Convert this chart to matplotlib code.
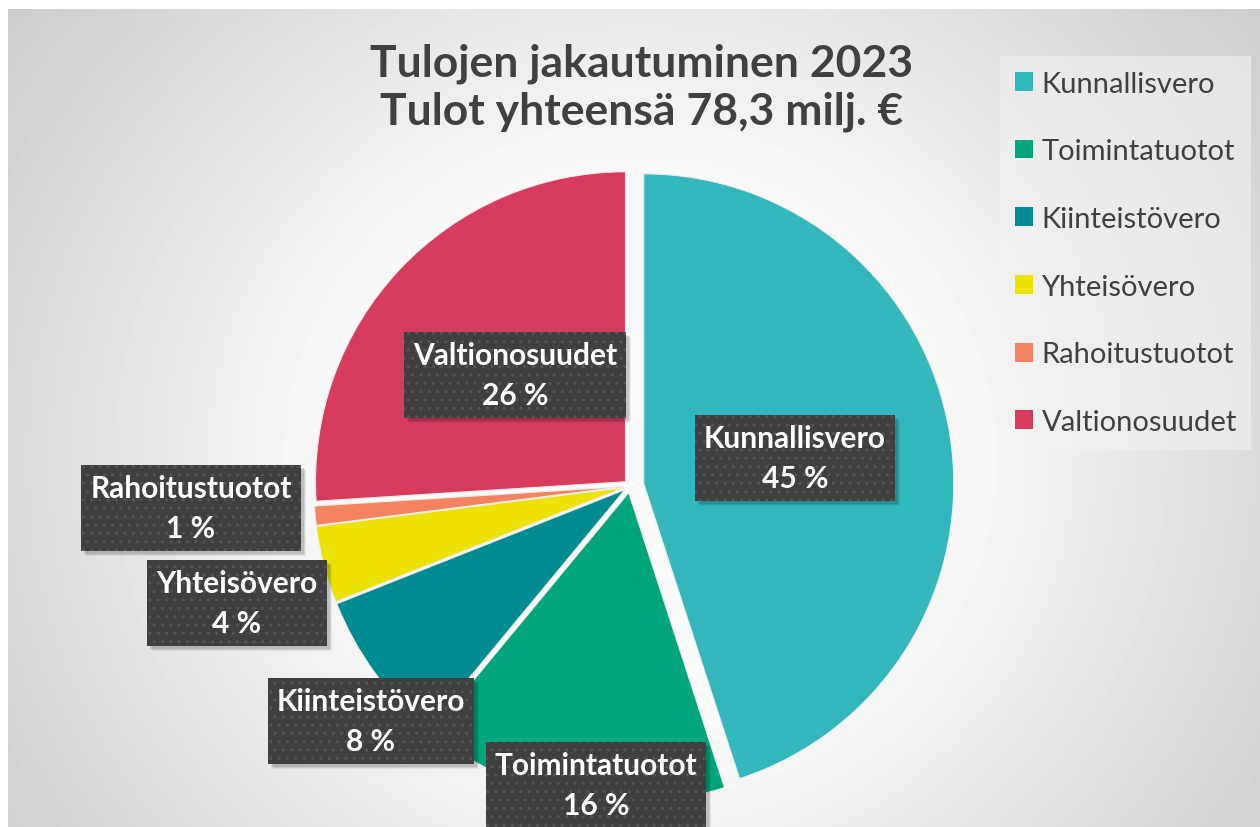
import numpy as np
import matplotlib
matplotlib.use("Agg")
import matplotlib.pyplot as plt
from matplotlib.patches import Rectangle

# ---- data ----
categories = ["Kunnallisvero", "Toimintatuotot", "Kiinteistövero",
              "Yhteisövero", "Rahoitustuotot", "Valtionosuudet"]
shares = [45, 16, 8, 4, 1, 26]
colors = ["#32B7BD", "#00A57B", "#008B92", "#EDE100", "#F4845F", "#D83C5C"]
title_lines = ["Tulojen jakautuminen 2023", "Tulot yhteensä 78,3 milj. €"]

# ---- layout (pixels) ----
W, H = 1260, 828
CX, CY, R = 630, 487, 310          # pie centre / radius in px (from top)
explode = [0.045, 0.022, 0.02, 0.02, 0.02, 0.02]
# label box centres, px from top-left
label_px = [(795, 459), (596, 786), (371, 722), (237, 604), (191, 509), (515, 376)]

FONT = "Lato"
TXT = "#404040"

fig = plt.figure(figsize=(W / 100, H / 100), dpi=100)
fig.patch.set_facecolor("white")

# background radial gradient
bg = fig.add_axes([8 / W, 0, 1 - 8 / W, (H - 10) / H])
yy, xx = np.mgrid[10:H, 8:W].astype(float)
r = np.hypot(xx - 640, (yy - 460) * 1.05)
t = np.clip((r - 280) / 560, 0, 1)
val = 0.985 - t * (0.985 - 0.78)
bg.imshow(val, cmap="gray", vmin=0, vmax=1, aspect="auto", interpolation="bilinear")
bg.axis("off")

# pie axes, 1 data unit == R px in both directions
ax = fig.add_axes([0, 0, 1, 1])
ax.patch.set_alpha(0)
wedges, _ = ax.pie(shares, colors=colors, startangle=90, counterclock=False,
                   explode=explode, radius=1,
                   wedgeprops=dict(edgecolor="#ececec", linewidth=0.8))
ax.set_aspect("auto")
ax.set_xlim(-CX / R, (W - CX) / R)
ax.set_ylim(-(H - CY) / R, CY / R)
ax.axis("off")

# data labels
LFS = 21.5
labels = []
for name, val_, (px, py) in zip(categories, shares, label_px):
    x = (px - CX) / R
    y = (CY - py) / R
    s = f"{name}\n{val_} %"
    txt = ax.text(x, y, s, ha="center", va="center",
                  fontsize=LFS, fontweight="bold", family=FONT, color="white",
                  linespacing=1.5, zorder=5,
                  bbox=dict(boxstyle="square,pad=0.3", facecolor="#3f3f3f",
                            edgecolor="#555555", linewidth=0, hatch=".."))
    labels.append(txt)

# soft shadows behind label boxes
fig.canvas.draw()
for txt in labels:
    bb = txt.get_bbox_patch().get_window_extent()
    for off, a in [(5, 0.06), (4, 0.08), (3, 0.10)]:
        fig.patches.append(Rectangle((bb.x0 + off, bb.y0 - off), bb.width, bb.height,
                                     transform=None, facecolor="black", alpha=a,
                                     edgecolor="none", zorder=1))
ax.set_zorder(2)
bg.set_zorder(0)
# move shadows onto an overlay axes between pie and labels
shadow_ax = fig.add_axes([0, 0, 1, 1], zorder=1.5)
shadow_ax.axis("off")
for p in list(fig.patches):
    fig.patches.remove(p)
    p.set_transform(None) if False else None
    shadow_ax.add_artist(p)
    p.set_transform(matplotlib.transforms.IdentityTransform())
ax.set_zorder(1)
shadow_ax.set_zorder(2)
label_ax_order = 3
for txt in labels:
    txt.remove()
lab_ax = fig.add_axes([0, 0, 1, 1], zorder=3)
lab_ax.axis("off")
lab_ax.set_xlim(ax.get_xlim())
lab_ax.set_ylim(ax.get_ylim())
for name, val_, (px, py) in zip(categories, shares, label_px):
    x = (px - CX) / R
    y = (CY - py) / R
    lab_ax.text(x, y, f"{name}\n{val_} %", ha="center", va="center",
                fontsize=LFS, fontweight="bold", family=FONT, color="white",
                linespacing=1.5,
                bbox=dict(boxstyle="square,pad=0.3", facecolor="#3f3f3f",
                          edgecolor="#555555", linewidth=0, hatch=".."))

# title
fig.text(642 / W, 1 - 76 / H, title_lines[0], ha="center", va="baseline",
         fontsize=32, fontweight="bold", family=FONT, color=TXT)
fig.text(642 / W, 1 - 124 / H, title_lines[1], ha="center", va="baseline",
         fontsize=32, fontweight="bold", family=FONT, color=TXT)

# legend
leg = fig.legend(wedges, categories, loc="upper left",
                 bbox_to_anchor=(1000 / W, 1 - 57 / H), borderaxespad=0,
                 frameon=True, fancybox=False, facecolor="#f2f2f2", framealpha=0.6,
                 edgecolor="none", prop=dict(family=FONT, size=21),
                 labelcolor=TXT, handlelength=0.62, handleheight=0.62,
                 handletextpad=0.3, labelspacing=1.43, borderpad=0.5)
for h in leg.legend_handles:
    h.set_edgecolor("none")

fig.savefig("out.png", dpi=100)
